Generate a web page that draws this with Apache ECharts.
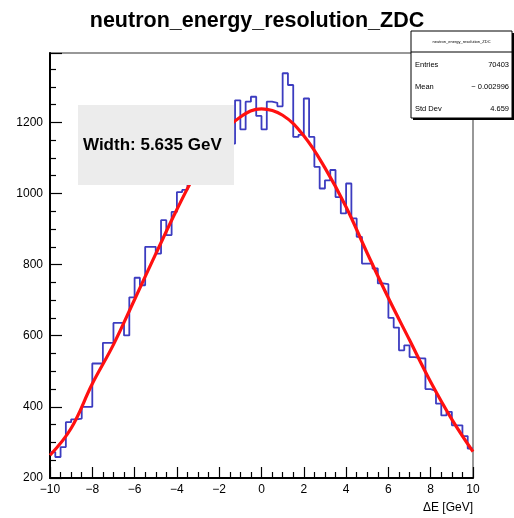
<!DOCTYPE html>
<html>
<head>
<meta charset="utf-8">
<script src="https://cdn.jsdelivr.net/npm/echarts@6/dist/echarts.min.js"></script>
<style>
  html, body { margin: 0; padding: 0; background: #fff; }
  #chart { width: 514px; height: 518px; }
</style>
</head>
<body>
<div id="chart"></div>
<script>
// ---- data ----
const histLow = -10;
const binWidth = 0.25;
const counts = [
  273, 259, 287, 357, 365, 367, 400, 400, 522, 522,
  580, 580, 636, 636, 601, 708, 763, 742, 850, 850,
  831, 925, 883, 948, 1004, 1010, 1040, 1055, 1090, 1100,
  1135, 1150, 1175, 1180, 1140, 1262, 1180, 1258, 1272, 1218,
  1180, 1258, 1255, 1245, 1338, 1305, 1159, 1165, 1267, 1159,
  1075, 1014, 1037, 1066, 990, 944, 1028, 930, 878, 803,
  803, 789, 747, 745, 650, 623, 559, 573, 540, 537,
  536, 450, 445, 409, 376, 386, 348, 348, 318, 283
];
const fitX = [-10, -9, -8, -7, -6, -5, -4, -3, -2, -1, 0, 1, 2, 3, 4, 5, 6, 7, 8, 9, 10];
const fitY = [264, 340, 465, 575, 702, 830, 955, 1068, 1158, 1215, 1238, 1220, 1162, 1072, 962, 832, 706, 588, 470, 365, 274];
const xTicks = [-10, -8, -6, -4, -2, 0, 2, 4, 6, 8, 10];
const yTicks = [200, 400, 600, 800, 1000, 1200];
const titleText = 'neutron_energy_resolution_ZDC';
const xTitle = '\u0394E [GeV]';
const fitLabel = 'Width: 5.635 GeV';
const statsRows = [['Entries', '70403'], ['Mean', '\u2212 0.002996'], ['Std Dev', '4.659']];

// histogram as step line over bin edges
const histData = counts.map((c, i) => [histLow + i * binWidth, c]);
histData.push([histLow + counts.length * binWidth, counts[counts.length - 1]]);

const FONT = '"Liberation Sans", Arial, Helvetica, sans-serif';
const chart = echarts.init(document.getElementById('chart'));

const statsGraphics = [];
const sx = 411, sy = 31, sw = 101, sh = 87;
statsGraphics.push({ type: 'rect', shape: { x: sx + 2, y: sy + 2, width: sw, height: sh }, style: { fill: '#000' }, z: 100 });
statsGraphics.push({ type: 'rect', shape: { x: sx, y: sy, width: sw, height: sh }, style: { fill: '#fff', stroke: '#000', lineWidth: 1 }, z: 101 });
statsGraphics.push({ type: 'line', shape: { x1: sx, y1: sy + 21, x2: sx + sw, y2: sy + 21 }, style: { stroke: '#000', lineWidth: 1 }, z: 102 });
statsGraphics.push({ type: 'text', x: sx + sw / 2, y: sy + 11, style: { text: titleText, font: '4px ' + FONT, fill: '#000', align: 'center', verticalAlign: 'middle' }, z: 102 });
statsRows.forEach((r, i) => {
  const yy = sy + 34 + i * 22;
  statsGraphics.push({ type: 'text', x: sx + 4, y: yy, style: { text: r[0], font: '7.5px ' + FONT, fill: '#000', align: 'left', verticalAlign: 'middle' }, z: 102 });
  statsGraphics.push({ type: 'text', x: sx + sw - 3, y: yy, style: { text: r[1], font: '7.5px ' + FONT, fill: '#000', align: 'right', verticalAlign: 'middle' }, z: 102 });
});

chart.setOption({
  animation: false,
  backgroundColor: '#fff',
  title: {
    text: titleText, left: 'center', top: 5,
    textStyle: { fontFamily: FONT, fontSize: 21.5, fontWeight: 'bold', color: '#000' }
  },
  grid: { left: 50, right: 41, top: 53, bottom: 40, show: true, borderColor: '#777', borderWidth: 1.5, backgroundColor: 'transparent' },
  xAxis: {
    type: 'value', min: -10, max: 10, interval: 2,
    axisLine: { show: true, onZero: false, lineStyle: { color: '#000', width: 2 } },
    axisTick: { show: true, inside: true, length: 11, lineStyle: { color: '#000', width: 1.2 } },
    minorTick: { show: true, splitNumber: 4, length: 6, lineStyle: { color: '#000', width: 1.2 } },
    splitLine: { show: false },
    axisLabel: { margin: 6, color: '#000', fontFamily: FONT, fontSize: 12,
      formatter: v => xTicks.includes(v) ? String(v).replace('-', '\u2212') : '' },
    name: xTitle, nameLocation: 'end', nameGap: 0,
    nameTextStyle: { fontFamily: FONT, fontSize: 12, color: '#000', align: 'right', verticalAlign: 'top', padding: [24, 0, 0, 0] }
  },
  yAxis: {
    type: 'value', min: 200, max: 1395, interval: 200,
    axisLine: { show: true, onZero: false, lineStyle: { color: '#000', width: 2 } },
    axisTick: { show: true, inside: true, length: 12, lineStyle: { color: '#000', width: 1.2 } },
    minorTick: { show: true, splitNumber: 4, length: 6, lineStyle: { color: '#000', width: 1.2 } },
    splitLine: { show: false },
    axisLabel: { margin: 7, color: '#000', fontFamily: FONT, fontSize: 12, showMaxLabel: false,
      formatter: v => yTicks.includes(v) ? String(v) : '' }
  },
  series: [
    {
      type: 'line', data: histData, step: 'end', showSymbol: false, symbol: 'none',
      lineStyle: { color: '#3c3cc0', width: 1.8 }, z: 3
    },
    {
      type: 'line', data: fitX.map((x, i) => [x, fitY[i]]), smooth: 0.4, showSymbol: false, symbol: 'none',
      lineStyle: { color: '#ff1010', width: 3.2 }, z: 4
    }
  ],
  graphic: [
    { type: 'rect', shape: { x: 78, y: 105, width: 156, height: 80 }, style: { fill: '#ececec' }, z: 100 },
    { type: 'text', x: 83, y: 145, style: { text: fitLabel, font: 'bold 17px ' + FONT, fill: '#000', align: 'left', verticalAlign: 'middle' }, z: 101 }
  ].concat(statsGraphics)
});
</script>
</body>
</html>
